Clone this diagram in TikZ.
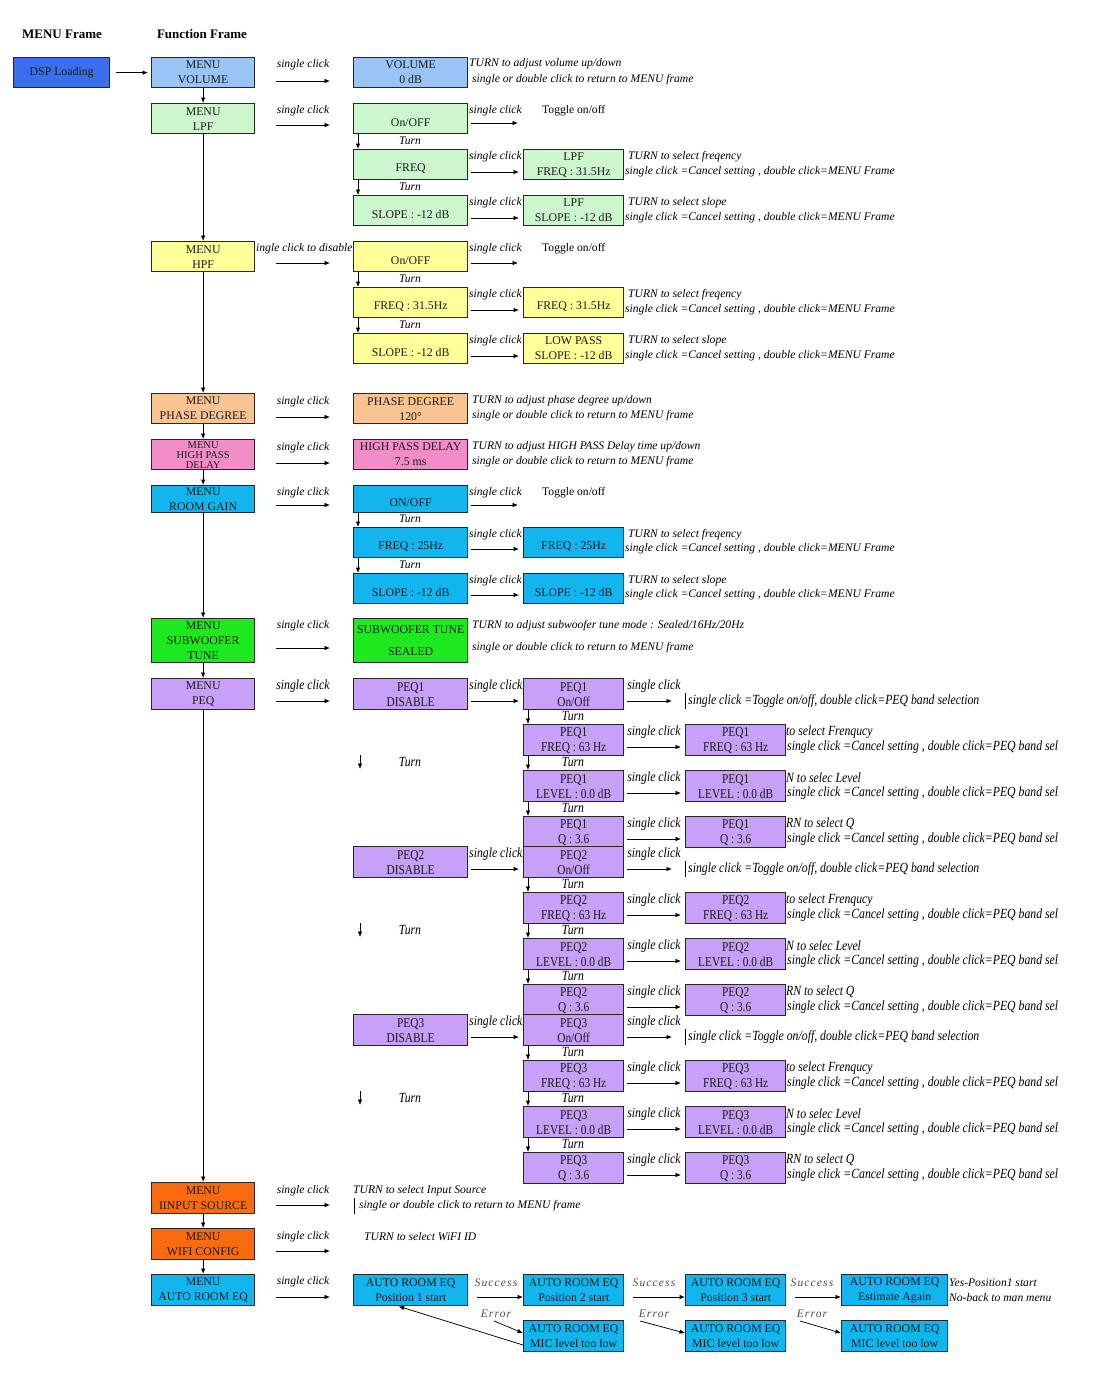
\documentclass[tikz,border=0pt]{standalone}
\usepackage{fontspec}
\setmainfont{Liberation Serif}
\newfontfamily\condf[FakeStretch=0.84]{Liberation Serif}
\newfontfamily\spacedf[LetterSpace=10]{Liberation Serif}
\usetikzlibrary{arrows.meta}
\definecolor{cdsp}{HTML}{3A6EEA}
\definecolor{cvol}{HTML}{99C4F5}
\definecolor{clpf}{HTML}{CCF7CC}
\definecolor{cyel}{HTML}{FFFF99}
\definecolor{cpea}{HTML}{F9C392}
\definecolor{cpnk}{HTML}{F28DC8}
\definecolor{ccya}{HTML}{12B5EE}
\definecolor{cgrn}{HTML}{1EE81E}
\definecolor{clav}{HTML}{C7A0F7}
\definecolor{corg}{HTML}{F96B0E}
\tikzset{
  bx/.style={draw=black!85, line width=1.3pt, inner sep=0pt, align=center, anchor=north west, text=black!90, font=\fontsize{11.8}{15}\selectfont},
  pbx/.style={bx, font=\condf\fontsize{13.5}{15}\selectfont},
  ar/.style={-{Latex[length=5.5pt,width=4.5pt]}, line width=0.75pt},
  it/.style={inner sep=0pt, anchor=west, font=\fontsize{11.6}{13}\selectfont\itshape},
  itc/.style={it, anchor=center},
  pit/.style={inner sep=0pt, anchor=west, font=\condf\fontsize{14}{15}\selectfont\itshape},
  pitc/.style={pit, anchor=center},
  up/.style={inner sep=0pt, anchor=west, font=\fontsize{11.6}{13}\selectfont},
  hd/.style={inner sep=0pt, font=\fontsize{13}{14}\selectfont\bfseries},
  sit/.style={inner sep=0pt, anchor=center, text=black!70, font=\spacedf\fontsize{11.5}{13}\selectfont\itshape},
}
\newcommand\bx[8][bx]{\node[#1, fill=#7, minimum width=#5pt, minimum height=#6pt] (#2) at (#3,#4) {#8};}
\begin{document}
\begin{tikzpicture}[x=1pt,y=-1pt]
\path[use as bounding box, fill=white] (0,0) rectangle (1095,1373);

% headers
\node[hd] (h1) at (62,34) {MENU Frame};
\node[hd] (h2) at (202,34) {Function Frame};

% label behind HPF box
\node[it] (scdis) at (256,249) {ingle click to disable};

% ---------- column 1 ----------
\bx{dsp}{13}{57}{96}{30}{cdsp}{DSP Loading}
\bx{mvol}{151}{57}{103}{30}{cvol}{MENU\\VOLUME}
\bx{mlpf}{151}{103}{103}{30}{clpf}{MENU\\LPF}
\bx{mhpf}{151}{241}{103}{30}{cyel}{MENU\\HPF}
\bx{mpha}{151}{393}{103}{30}{cpea}{MENU\\PHASE DEGREE}
\node[bx, fill=cpnk, minimum width=103pt, minimum height=30pt, font=\fontsize{10.5}{10}\selectfont] (mhpd) at (151,439) {MENU\\HIGH PASS\\DELAY};
\bx{mrg}{151}{485}{103}{27}{ccya}{MENU\\ROOM GAIN}
\bx{msub}{151}{618}{103}{44}{cgrn}{MENU\\SUBWOOFER\\TUNE}
\bx{mpeq}{151}{678}{103}{31}{clav}{MENU\\PEQ}
\bx{minp}{151}{1182}{103}{31}{corg}{MENU\\IINPUT SOURCE}
\bx{mwifi}{151}{1228}{103}{31}{corg}{MENU\\WIFI CONFIG}
\bx{mare}{151}{1274}{103}{31}{ccya}{MENU\\AUTO ROOM EQ}

\draw[ar, shorten <=6pt, shorten >=3pt] (dsp) -- (mvol);
\draw[ar] (mvol) -- (mlpf);
\draw[ar] (mlpf) -- (mhpf);
\draw[ar] (mhpf) -- (mpha);
\draw[ar] (mpha) -- (mhpd);
\draw[ar] (mhpd) -- (mrg);
\draw[ar] (mrg) -- (msub);
\draw[ar] (msub) -- (mpeq);
\draw[ar] (mpeq) -- (minp);
\draw[ar] (minp) -- (mwifi);
\draw[ar] (mwifi) -- (mare);

% single click arrows col1 -> col2
\foreach \n/\ly/\ay in {a/65/81, b/111/125, c/402/417, d/448/463, e/493/505, f/626/648, h/1191/1205, i/1237/1251, j/1282/1297}{
  \node[itc] (sc\n) at (303,\ly) {single click};
  \coordinate (fa\n) at (276,\ay);
  \coordinate (fb\n) at (330,\ay);
  \draw[ar] (fa\n) -- (fb\n);
}
\node[pitc] (scg) at (303,686) {single click};
\coordinate (fag) at (276,701); \coordinate (fbg) at (330,701);
\draw[ar] (fag) -- (fbg);
\coordinate (fak) at (276,263); \coordinate (fbk) at (330,263);
\draw[ar] (fak) -- (fbk);

% ---------- column 2 ----------
\bx{fvol}{353}{57}{114}{30}{cvol}{VOLUME\\0 dB}
\bx{lon}{353}{103}{114}{30}{clpf}{\mbox{}\\On/OFF}
\bx{lfr}{353}{149}{114}{30}{clpf}{\mbox{}\\FREQ}
\bx{lsl}{353}{195}{114}{30}{clpf}{\mbox{}\\SLOPE : -12 dB}
\bx{hon}{353}{241}{114}{30}{cyel}{\mbox{}\\On/OFF}
\bx{hfr}{353}{287}{114}{30}{cyel}{\mbox{}\\FREQ : 31.5Hz}
\bx{hsl}{353}{333}{114}{30}{cyel}{\mbox{}\\SLOPE : -12 dB}
\bx{fpha}{353}{393}{114}{30}{cpea}{PHASE DEGREE\\120°}
\bx{fhpd}{353}{439}{114}{30}{cpnk}{HIGH PASS DELAY\\7.5 ms}
\bx{ron}{353}{485}{114}{27}{ccya}{\mbox{}\\ON/OFF}
\bx{rfr}{353}{527}{114}{30}{ccya}{\mbox{}\\FREQ : 25Hz}
\bx{rsl}{353}{573}{114}{30}{ccya}{\mbox{}\\SLOPE : -12 dB}
\bx{fsub}{353}{618}{114}{44}{cgrn}{SUBWOOFER TUNE\\[7pt]SEALED}

% ---------- column 3 (LPF/HPF/ROOM GAIN) ----------
\bx{lfr2}{523}{149}{100}{30}{clpf}{LPF\\FREQ : 31.5Hz}
\bx{lsl2}{523}{195}{100}{30}{clpf}{LPF\\SLOPE : -12 dB}
\bx{hfr2}{523}{287}{100}{30}{cyel}{\mbox{}\\FREQ : 31.5Hz}
\bx{hsl2}{523}{333}{100}{30}{cyel}{LOW PASS\\SLOPE : -12 dB}
\bx{rfr2}{523}{527}{100}{30}{ccya}{\mbox{}\\FREQ : 25Hz}
\bx{rsl2}{523}{573}{100}{30}{ccya}{\mbox{}\\SLOPE : -12 dB}

% turn arrows col2
\foreach \a/\b/\ty in {lon/lfr/141, lfr/lsl/187, hon/hfr/279, hfr/hsl/325, ron/rfr/519, rfr/rsl/565}{
  \draw[ar] ([xshift=5pt]\a.south west) -- ([xshift=5pt]\b.north west);
  \node[itc] (t\a) at (410,\ty) {Turn};
}

% col2 -> col3 clicks
\foreach \a/\b/\ly/\ay in {lfr/lfr2/157/172, lsl/lsl2/203/218, hfr/hfr2/295/310, hsl/hsl2/341/356, rfr/rfr2/535/549, rsl/rsl2/581/595}{
  \node[it] (c\a) at (469,\ly) {single click};
  \coordinate (s\a) at (471,\ay);
  \draw[ar, shorten >=4pt] (s\a) -- (s\a -| \b.west);
}
\foreach \a/\ly/\ay in {lon/111/123, hon/249/263, ron/493/505}{
  \node[it] (c\a) at (469,\ly) {single click};
  \coordinate (s\a) at (471,\ay);
  \coordinate (e\a) at (518,\ay);
  \draw[ar] (s\a) -- (e\a);
  \node[up] (tg\a) at (542,\ly) {Toggle on/off};
}

% annotations
\node[it] (n1) at (469,64) {TURN to adjust volume up/down};
\node[it] (n2) at (472,80) {single or double click to return to MENU frame};
\foreach \b/\ly/\ay/\w in {lfr2/157/172/freqency, lsl2/203/218/slope, hfr2/295/310/freqency, hsl2/341/356/slope, rfr2/535/549/freqency, rsl2/581/595/slope}{
  \node[it] (na\b) at (628,\ly) {TURN to select \w};
  \node[it] (nb\b) at (625,\ay) {single click =Cancel setting , double click=MENU Frame};
}
\node[it] (n3) at (472,401) {TURN to adjust phase degree up/down};
\node[it] (n4) at (472,416) {single or double click to return to MENU frame};
\node[it] (n5) at (472,447) {TURN to adjust HIGH PASS Delay time up/down};
\node[it] (n6) at (472,462) {single or double click to return to MENU frame};
\node[it] (n7) at (472,626) {TURN to adjust subwoofer tune mode : Sealed/16Hz/20Hz};
\node[it] (n8) at (472,648) {single or double click to return to MENU frame};

% ---------- PEQ ----------
\foreach \k in {1,2,3}{
  \pgfmathtruncatemacro\b{678+(\k-1)*168}
  \pgfmathtruncatemacro\bb{\b+46}
  \pgfmathtruncatemacro\bc{\b+92}
  \pgfmathtruncatemacro\bd{\b+138}
  \bx[pbx]{p\k d}{353}{\b}{114}{31}{clav}{PEQ\k\\DISABLE}
  \bx[pbx]{p\k on}{523}{\b}{100}{31}{clav}{PEQ\k\\On/Off}
  \bx[pbx]{p\k fr}{523}{\bb}{100}{31}{clav}{PEQ\k\\FREQ : 63 Hz}
  \bx[pbx]{p\k lv}{523}{\bc}{100}{31}{clav}{PEQ\k\\LEVEL : 0.0 dB}
  \bx[pbx]{p\k q}{523}{\bd}{100}{31}{clav}{PEQ\k\\Q : 3.6}
  \bx[pbx]{p\k frb}{685}{\bb}{100}{31}{clav}{PEQ\k\\FREQ : 63 Hz}
  \bx[pbx]{p\k lvb}{685}{\bc}{100}{31}{clav}{PEQ\k\\LEVEL : 0.0 dB}
  \bx[pbx]{p\k qb}{685}{\bd}{100}{31}{clav}{PEQ\k\\Q : 3.6}
  % disable -> on
  \node[pit] (pa\k) at (469,{\b+8}) {single click};
  \coordinate (pa\k s) at (471,{\b+23});
  \draw[ar, shorten >=4pt] (pa\k s) -- (pa\k s -| p\k on.west);
  % on -> free
  \node[pitc] (pb\k) at (654,{\b+8}) {single click};
  \coordinate (pb\k s) at (627,{\b+23});
  \coordinate (pb\k e) at (672,{\b+23});
  \draw[ar] (pb\k s) -- (pb\k e);
  \draw[line width=1pt] (685,{\b+15}) -- (685,{\b+31});
  \node[pit] (pt\k) at (688,{\b+23}) {single click =Toggle on/off, double click=PEQ band selection};
  % rows
  \foreach \r/\yy in {fr/\bb, lv/\bc, q/\bd}{
    \node[pitc] (pc\k\r) at (654,{\yy+8}) {single click};
    \coordinate (pc\k\r s) at (627,{\yy+23});
    \draw[ar, shorten >=4pt] (pc\k\r s) -- (pc\k\r s -| p\k\r b.west);
  }
  \node[pit] (pf\k) at (786,{\bb+8}) {to select Frenqucy};
  \node[pit] (pl\k) at (786,{\bc+8}) {N to selec Level};
  \node[pit] (pq\k) at (786,{\bd+8}) {RN to select Q};
  \begin{scope}
    \clip (780,0) rectangle (1057,1373);
    \node[pit] (pg\k) at (787,{\bb+23}) {single click =Cancel setting , double click=PEQ band sel};
    \node[pit] (ph\k) at (787,{\bc+23}) {single click =Cancel setting , double click=PEQ band sel};
    \node[pit] (pi\k) at (787,{\bd+23}) {single click =Cancel setting , double click=PEQ band sel};
  \end{scope}
  % turn arrows col3
  \draw[ar] ([xshift=5pt]p\k on.south west) -- ([xshift=5pt]p\k fr.north west);
  \draw[ar] ([xshift=5pt]p\k fr.south west) -- ([xshift=5pt]p\k lv.north west);
  \draw[ar] ([xshift=5pt]p\k lv.south west) -- ([xshift=5pt]p\k q.north west);
  \node[pitc] (pu\k a) at (573,{\b+38}) {Turn};
  \node[pitc] (pu\k b) at (573,{\bb+38}) {Turn};
  \node[pitc] (pu\k c) at (573,{\bc+38}) {Turn};
  % left standalone turn
  \coordinate (lt\k a) at (360,{\b+77});
  \coordinate (lt\k b) at (360,{\b+91});
  \draw[ar] (lt\k a) -- (lt\k b);
  \node[pitc] (lt\k) at (410,{\b+84}) {Turn};
}

% ---------- bottom ----------
\node[it] (in1) at (353,1191) {TURN to select Input Source};
\draw[line width=1pt] (354,1198) -- (354,1214);
\node[it] (in2) at (359,1206) {single or double click to return to MENU frame};
\node[it] (wf1) at (364,1237) {TURN to select WiFI ID};

\bx{are1}{353}{1274}{114}{31}{ccya}{AUTO ROOM EQ\\Position 1 start}
\bx{are2}{523}{1274}{100}{31}{ccya}{AUTO ROOM EQ\\Position 2 start}
\bx{mic1}{523}{1320}{100}{31}{ccya}{AUTO ROOM EQ\\MIC level too low}
\bx{are3}{685}{1274}{100}{31}{ccya}{AUTO ROOM EQ\\Position 3 start}
\bx{mic2}{685}{1320}{100}{31}{ccya}{AUTO ROOM EQ\\MIC level too low}
\bx{are4}{841}{1274}{106}{31}{ccya}{AUTO ROOM EQ\\Estimate Again}
\bx{mic3}{841}{1320}{106}{31}{ccya}{AUTO ROOM EQ\\MIC level too low}

\foreach \i/\sx/\lx/\ex/\nb/\mb in {1/477/496/494/are2/mic1, 2/633/654/640/are3/mic2, 3/795/812/800/are4/mic3}{
  \node[sit] (su\i) at (\lx,1283) {Success};
  \coordinate (ss\i) at (\sx,1297);
  \draw[ar] (ss\i) -- (ss\i -| \nb.west);
  \node[sit] (er\i) at (\lx,1314) {Error};
  \coordinate (ee\i) at (\ex,1321);
  \draw[ar] (ee\i) -- ([yshift=-13pt]\mb.north west);
}
\draw[ar] ([yshift=-25pt]mic1.north west) -- ([xshift=-12pt]are1.south);
\node[it] (ye) at (949,1283) {Yes-Position1 start};
\node[it] (no) at (949,1298) {No-back to man menu};
\end{tikzpicture}
\end{document}
